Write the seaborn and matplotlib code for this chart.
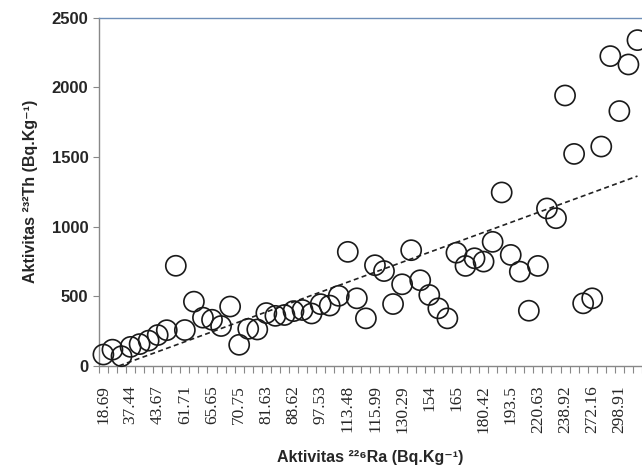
import numpy as np
import pandas as pd
import seaborn as sns
import matplotlib.pyplot as plt

# Ra-226 labels shown on the category axis (Excel shows every 3rd one)
ra_labels = ['18.69', '37.44', '43.67', '61.71', '65.65', '70.75', '81.63',
             '88.62', '97.53', '113.48', '115.99', '130.29', '154', '165',
             '180.42', '193.5', '220.63', '238.92', '272.16', '298.91']
label_step = 3

# Th-232 activity for each sample, sorted by Ra-226
th_values = [80, 115, 68, 135, 155, 180, 220, 255, 718, 256,
             460, 345, 330, 285, 425, 150, 265, 260, 378, 358,
             364, 392, 400, 375, 442, 432, 502, 818, 484, 340,
             722, 680, 443, 585, 830, 614, 508, 412, 340, 812,
             717, 772, 748, 890, 1245, 796, 676, 395, 717, 1130,
             1060, 1942, 1522, 448, 484, 1575, 2225, 1830, 2165, 2340]

df = pd.DataFrame({'sample': np.arange(len(th_values)), 'th': th_values})

sns.set_style("white")
fig = plt.figure(figsize=(6.42, 4.7), dpi=100)
ax = fig.add_axes([0.154, 0.222, 0.846, 0.74])

# linear trendline, like Excel's dashed trendline
sns.regplot(data=df, x='sample', y='th', scatter=False, ci=None, ax=ax,
            line_kws=dict(color='#222222', lw=1.2, ls=(0, (3, 2))))

sns.scatterplot(data=df, x='sample', y='th', ax=ax, s=210, marker='o',
                facecolor='none', edgecolor='#1a1a1a', linewidth=1.2,
                zorder=3, clip_on=False)

n = len(th_values)
ax.set_xlim(-0.5, n - 0.5)
ax.set_ylim(0, 2500)
ax.set_yticks(range(0, 2501, 500))

# ticks at category boundaries, labels at every 3rd category centre
ax.set_xticks(np.arange(n + 1) - 0.5)
ax.set_xticklabels([])
ax.set_xticks(np.arange(0, n, label_step), minor=True)
ax.set_xticklabels(ra_labels, minor=True, rotation=90,
                   family='Liberation Serif', fontsize=12.5)
ax.tick_params(axis='x', which='major', direction='out', length=5,
               color='#888888', bottom=True)
ax.tick_params(axis='x', which='minor', length=0, pad=14, bottom=True)
ax.tick_params(axis='y', direction='out', length=4, color='#888888', left=True)
for t in ax.get_yticklabels():
    t.set_family('Liberation Sans')
    t.set_fontweight('bold')
    t.set_fontsize(12)

for side in ['left', 'bottom']:
    ax.spines[side].set_color('#888888')
    ax.spines[side].set_linewidth(1.0)
ax.spines['top'].set_color('#6f8fb8')
ax.spines['top'].set_linewidth(1.0)
ax.spines['right'].set_visible(False)

fam = ['Liberation Sans', 'DejaVu Sans']
ax.set_xlabel('Aktivitas ²²⁶Ra (Bq.Kg⁻¹)', family=fam, fontweight='bold',
              fontsize=11.5, labelpad=12)
ax.set_ylabel('Aktivitas ²³²Th (Bq.Kg⁻¹)', family=fam, fontweight='bold',
              fontsize=11.5, labelpad=10)

fig.savefig('out.png', dpi=100)
